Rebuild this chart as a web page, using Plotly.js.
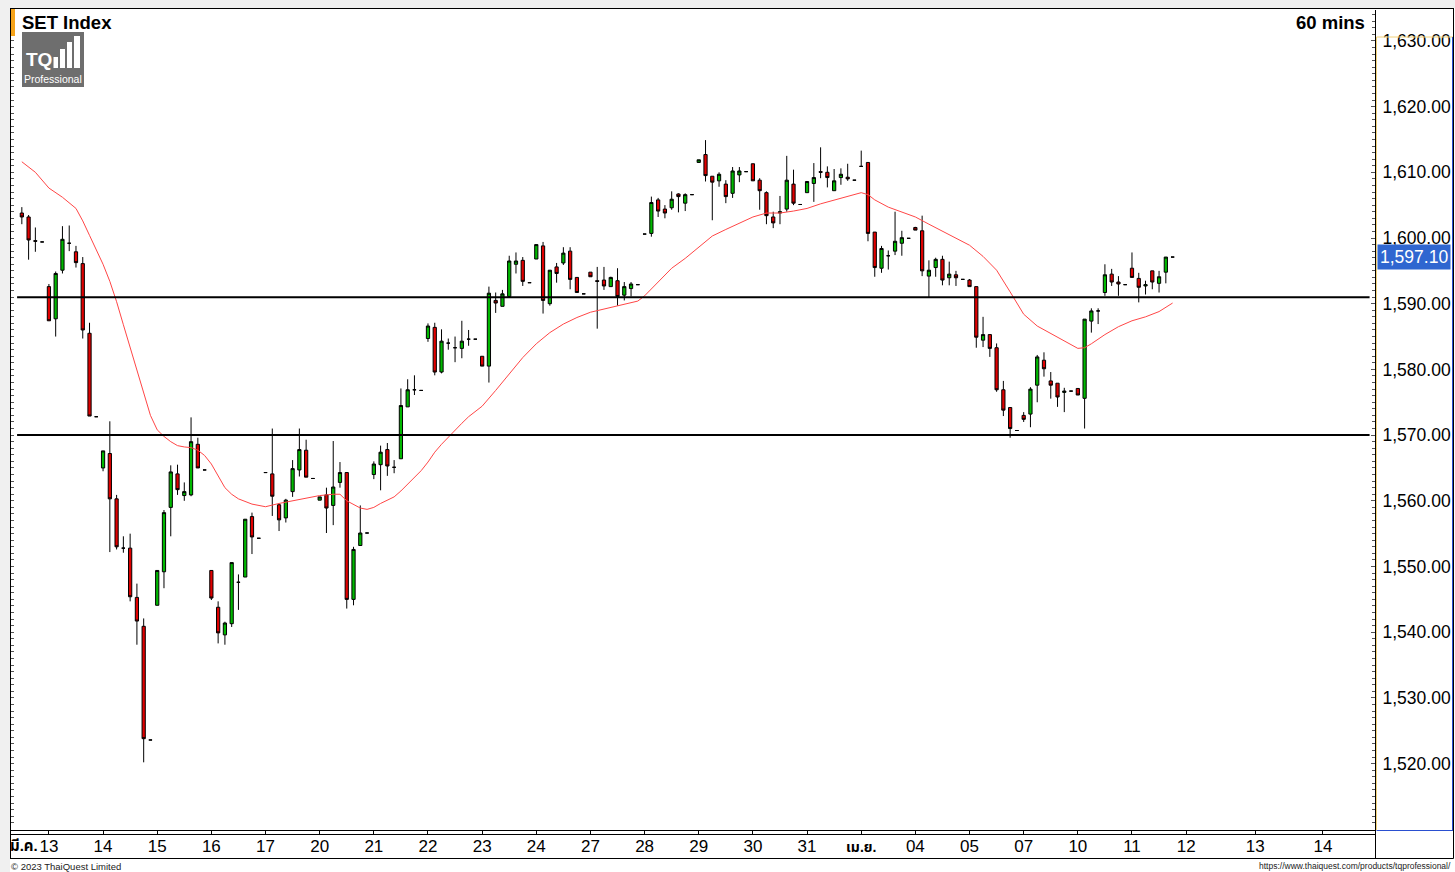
<!DOCTYPE html>
<html>
<head>
<meta charset="utf-8">
<script src="https://cdn.plot.ly/plotly-3.0.1.min.js"></script>
<style>
  html, body { margin: 0; padding: 0; background: #ffffff; }
  #chart { width: 1455px; height: 872px; }
</style>
</head>
<body>
<div id="chart"></div>
<script>
// ---------- DATA (hourly bars) ----------
const openP = [
 1603.8,1603.2,1599.6,1599.4, 1592.6,1587.7,1595.1,1599.2,1597.9,1596.1,1585.5,1572.8,
 1565.0,1567.2,1560.3,1552.8,1552.8,1545.3,1540.9,1523.6,
 1544.1,1549.2,1559.0,1564.1,1560.8,1560.9,1568.6,1564.7,
 1549.4,1543.8,1539.6,1541.3,1547.6,1548.4,1557.6,1554.3,
 1564.3,1564.1,1559.4,1557.4,1561.4,1564.7,1567.7,1563.4,
 1560.1,1560.9,1559.3,1562.8,1564.3,1545.0,1553.2,1555.1,
 1564.0,1565.5,1567.8,1565.1,1566.4,1574.3,1576.9,1576.8,
 1584.7,1586.4,1579.6,1584.0,1583.3,1583.2,1584.6,1584.6,
 1582.0,1580.5,1590.5,1589.6,1591.1,1596.0,1596.6,1593.2,
 1596.8,1598.8,1590.0,1595.6,1596.2,1598.0,1594.0,1591.5,
 1594.8,1593.5,1593.6,1592.6,1593.5,1591.3,1592.3,1592.9,
 1600.6,1600.7,1605.8,1604.4,1604.6,1606.7,1605.3,1606.6,
 1611.5,1612.7,1609.4,1608.7,1608.2,1606.8,1609.6,1610.1,
 1611.3,1608.8,1606.9,1603.2,1603.8,1604.4,1608.2,1605.1,
 1606.9,1608.3,1610.1,1610.0,1607.2,1609.2,1609.25,1608.8,
 1610.9,1611.5,1600.9,1595.4,1597.3,1598.0,1599.2,1599.95,
 1601.6,1601.1,1594.2,1595.5,1596.75,1593.95,1594.4,1593.7,
 1593.6,1592.6,1584.45,1585.3,1583.3,1576.9,1574.2,1570.7,
 1573.0,1573.2,1577.6,1581.4,1578.25,1577.9,1576.5,1576.7,
 1577.1,1575.6,1587.35,1588.9,1591.7,1594.5,1593.3,1592.9,
 1595.4,1593.85,1592.7,1595.0,1593.1,1594.8,1597.1
];
const highP = [
 1604.7,1603.5,1601.6,1599.4, 1593.0,1594.9,1601.8,1601.9,1598.8,1597.1,1587.1,1572.8,
 1567.6,1572.1,1560.9,1554.6,1555.0,1547.4,1542.1,1523.6,
 1549.4,1558.6,1565.4,1565.5,1562.8,1572.7,1569.6,1564.7,
 1549.4,1544.7,1541.6,1550.6,1548.8,1557.2,1558.2,1554.3,
 1564.3,1571.0,1559.6,1560.3,1566.2,1571.0,1569.3,1563.4,
 1560.6,1562.0,1569.1,1565.9,1564.3,1553.0,1559.3,1555.1,
 1566.0,1568.4,1568.8,1566.2,1577.1,1578.5,1579.1,1576.8,
 1587.0,1587.1,1586.1,1584.7,1585.0,1587.4,1586.0,1584.6,
 1582.0,1592.6,1591.7,1592.1,1597.3,1597.8,1597.1,1593.2,
 1599.0,1599.4,1595.1,1596.2,1598.6,1598.6,1594.0,1591.5,
 1594.8,1595.6,1595.6,1594.1,1595.4,1593.3,1593.3,1592.9,
 1600.6,1606.3,1606.1,1605.0,1607.1,1606.8,1606.8,1606.6,
 1611.9,1614.9,1609.4,1610.0,1608.8,1610.8,1610.8,1610.1,
 1611.3,1609.1,1607.1,1604.0,1606.4,1612.5,1610.4,1605.1,
 1608.6,1611.4,1613.8,1610.9,1610.5,1610.6,1611.3,1608.8,
 1613.3,1611.5,1600.9,1598.8,1598.1,1604.0,1601.1,1599.95,
 1601.7,1603.4,1596.6,1597.0,1597.3,1596.4,1595.0,1593.7,
 1593.75,1592.6,1588.0,1585.3,1583.95,1578.25,1574.2,1570.7,
 1573.5,1577.3,1582.2,1582.6,1579.6,1577.9,1577.2,1576.7,
 1577.1,1587.65,1589.3,1589.3,1596.0,1595.3,1594.2,1592.9,
 1597.8,1594.7,1593.5,1595.0,1595.0,1597.1,1597.1
];
const lowP = [
 1602.1,1596.7,1597.9,1599.4, 1587.4,1585.0,1594.6,1598.0,1595.5,1584.7,1572.9,1572.8,
 1564.5,1552.2,1552.6,1552.1,1544.7,1538.1,1520.2,1523.6,
 1544.1,1546.7,1554.6,1560.9,1560.0,1560.7,1565.0,1564.7,
 1544.9,1538.3,1538.1,1540.8,1543.4,1548.4,1551.9,1554.3,
 1564.3,1557.7,1555.4,1556.7,1560.6,1563.7,1563.6,1563.4,
 1560.1,1555.1,1556.3,1562.0,1543.6,1544.1,1553.2,1555.1,
 1563.3,1561.6,1563.8,1564.2,1566.4,1574.3,1576.1,1576.8,
 1584.2,1579.1,1579.4,1583.0,1581.1,1581.7,1583.6,1584.6,
 1580.5,1578.0,1588.6,1589.6,1591.1,1594.6,1592.7,1593.2,
 1596.8,1588.5,1589.7,1593.2,1595.9,1592.2,1591.7,1591.5,
 1594.1,1586.2,1592.1,1592.6,1589.7,1590.5,1591.1,1592.9,
 1600.6,1600.2,1603.2,1603.0,1604.3,1603.9,1604.1,1606.6,
 1611.5,1608.6,1602.7,1607.8,1605.3,1606.1,1608.5,1610.1,
 1608.7,1604.3,1602.1,1601.5,1602.1,1604.0,1605.0,1605.1,
 1606.9,1605.5,1609.1,1607.7,1607.2,1608.1,1608.7,1608.8,
 1610.9,1599.5,1594.1,1594.7,1595.2,1597.4,1597.3,1599.95,
 1601.2,1594.2,1591.0,1594.1,1592.8,1592.8,1592.7,1593.7,
 1592.6,1583.3,1583.4,1581.9,1576.6,1572.9,1569.6,1570.7,
 1572.0,1571.2,1575.0,1578.9,1575.55,1574.3,1573.5,1576.7,
 1576.1,1571.0,1585.6,1586.9,1591.2,1592.7,1591.2,1592.9,
 1594.0,1590.2,1591.4,1592.2,1591.7,1593.1,1597.1
];
const closeP = [
 1603.2,1599.7,1599.5,1599.4, 1587.4,1594.6,1599.8,1599.2,1596.25,1586.0,1572.9,1572.8,
 1567.6,1560.3,1553.0,1552.8,1545.4,1541.7,1523.8,1523.6,
 1549.4,1558.2,1564.4,1561.7,1561.4,1569.0,1565.0,1564.7,
 1545.2,1539.9,1541.4,1550.6,1547.6,1557.2,1554.5,1554.3,
 1564.3,1560.7,1557.1,1560.1,1564.9,1567.8,1563.6,1563.4,
 1560.6,1558.9,1562.1,1564.3,1545.0,1552.6,1555.1,1555.1,
 1565.6,1567.4,1565.3,1565.1,1574.5,1576.9,1576.9,1576.8,
 1586.6,1579.6,1584.3,1584.0,1583.3,1584.3,1584.6,1584.6,
 1580.5,1591.6,1590.1,1591.5,1596.5,1596.5,1593.4,1593.2,
 1599.0,1590.5,1595.1,1594.6,1597.7,1593.7,1591.7,1591.5,
 1594.1,1593.4,1592.7,1594.0,1591.1,1592.6,1593.0,1592.9,
 1600.6,1605.4,1604.1,1603.8,1605.9,1606.3,1606.6,1606.6,
 1611.9,1609.5,1608.5,1609.7,1606.3,1610.2,1610.2,1610.1,
 1608.7,1607.2,1603.4,1602.3,1604.0,1608.8,1605.3,1605.1,
 1608.6,1609.2,1610.0,1609.2,1608.7,1609.7,1609.0,1608.8,
 1610.9,1600.7,1595.5,1598.4,1597.3,1599.5,1600.05,1599.95,
 1601.2,1595.0,1595.1,1596.75,1593.6,1594.5,1593.95,1593.7,
 1592.6,1584.9,1585.3,1583.2,1576.9,1573.8,1571.0,1570.7,
 1572.4,1577.0,1581.9,1580.1,1577.6,1575.8,1576.7,1576.7,
 1576.1,1587.65,1588.9,1588.9,1594.4,1593.3,1593.0,1592.9,
 1594.0,1592.5,1592.9,1593.3,1594.1,1597.1,1597.1
];
// moving average line, read at bar positions
const maBar = [0,2,4,6,8,9,10,11,12,13,14,15,16,17,18,19,20,21,22,23,24,25,26,27,28,29,30,31,32,34,36,38,40,42,44,46,47,48,49,50,51,52,53,54,55,56,57,58,59,60,61,62,63,64,65,66,67,68,70,72,74,76,78,80,82,84,86,88,90,91,92,94,96,98,100,102,104,106,108,110,112,114,116,118,120,122,124,125,126,128,130,132,134,136,138,140,142,144,146,148,150,152,154,156,157,158,160,162,164,166,168,170];
const maVal = [1611.6,1610.0,1607.6,1606.2,1604.5,1602.6,1600.4,1598.2,1596.0,1593.4,1590.3,1586.8,1583.3,1580.2,1576.5,1573.0,1570.8,1569.8,1569.0,1568.4,1568.2,1568.1,1567.7,1566.9,1565.6,1563.9,1562.0,1561.0,1560.3,1559.5,1559.1,1559.6,1560.0,1560.4,1560.8,1561.0,1561.0,1560.0,1559.4,1558.9,1558.7,1559.0,1559.6,1560.1,1560.6,1561.5,1562.5,1563.5,1564.6,1565.9,1567.4,1568.6,1569.7,1570.8,1571.8,1572.8,1573.6,1574.4,1576.8,1579.3,1581.8,1583.9,1585.6,1586.9,1587.9,1588.7,1589.2,1589.6,1590.1,1590.4,1591.2,1593.3,1595.4,1596.9,1598.6,1600.3,1601.3,1602.2,1603.2,1603.8,1603.8,1604.1,1604.5,1605.2,1605.8,1606.4,1606.9,1606.6,1605.8,1604.7,1603.9,1603.2,1602.1,1601.0,1600.0,1598.9,1597.2,1595.1,1591.8,1588.4,1586.6,1585.5,1584.4,1583.2,1583.3,1583.9,1585.3,1586.5,1587.4,1588.0,1588.8,1590.1];
// horizontal support / resistance levels
const levels = [1591.0, 1570.0];
// x-axis day ticks (bar position of each day's first bar) and labels
const dayTickBar = [4,12,20,28,36,44,52,60,68,76,84,92,100,108,116,124,132,140,148,156,164,172,182.2,192.2];
const dayTickText = ["13","14","15","16","17","20","21","22","23","24","27","28","29","30","31",
  "<b><span style=\"font-size:14px\">เม.ย.</span></b>","04","05","07","10","11","12","13","14"];
const yTicks = [1520,1530,1540,1550,1560,1570,1580,1590,1600,1610,1620,1630];
const titleText = "SET Index";
const periodText = "60 mins";
const monthStartText = "มี.ค.";
const copyText = "© 2023 ThaiQuest Limited";
const urlText = "https://www.thaiquest.com/products/tqprofessional/";

// ---------- PLOT ----------
const barIdx = closeP.map((_, i) => i);
const W = 1455, H = 872, L = 11, R = 80, T = 10, B = 42;
const pw = W - L - R, ph = H - T - B;
const px = x => (x - L) / pw;           // page pixel -> paper x
const py = y => (H - B - y) / ph;       // page pixel -> paper y

const FONT = "Liberation Sans, Arial, Noto Sans Thai, sans-serif";

const traces = [
  { type: "scatter", mode: "lines", x: maBar, y: maVal,
    line: { color: "#ff4646", width: 1 }, hoverinfo: "skip", showlegend: false },
  { type: "candlestick", x: barIdx, open: openP, high: highP, low: lowP, close: closeP,
    increasing: { line: { color: "#000000", width: 1 }, fillcolor: "#00b800" },
    decreasing: { line: { color: "#000000", width: 1 }, fillcolor: "#e00000" },
    whiskerwidth: 0, hoverinfo: "skip", showlegend: false },
  // invisible trace to anchor the left-hand mirror axis
  { type: "scatter", mode: "lines", x: [0], y: [1600], yaxis: "y2",
    line: { width: 0 }, hoverinfo: "skip", showlegend: false, opacity: 0 }
];

const shapes = [];
// grey window strips (top and left)
shapes.push({ type: "rect", xref: "paper", yref: "paper", x0: px(0), x1: px(W), y0: py(0), y1: py(8),
  fillcolor: "#f0f0f0", line: { width: 0 }, layer: "below" });
shapes.push({ type: "rect", xref: "paper", yref: "paper", x0: px(0), x1: px(10), y0: py(0), y1: py(H),
  fillcolor: "#f0f0f0", line: { width: 0 }, layer: "below" });
// outer frame
const blackLine = (x0, y0, x1, y1, w, c) => shapes.push({ type: "line", xref: "paper", yref: "paper",
  x0: px(x0), x1: px(x1), y0: py(y0), y1: py(y1), line: { color: c || "#000", width: w || 1 } });
blackLine(10, 8.5, 1453.5, 8.5, 1);
blackLine(10.5, 8, 10.5, 858.5, 1);
blackLine(1453.5, 8, 1453.5, 858.5, 1);
blackLine(10, 858.5, 1453.5, 858.5, 1);
blackLine(11, 834.5, 1375.5, 834.5, 1);
blackLine(1375.5, 830, 1375.5, 858.5, 1);
// price-axis panel frame
blackLine(1376.5, 37, 1376.5, 830, 1, "#f2d27a");
blackLine(1376.5, 37, 1453, 37, 1, "#f2d27a");
blackLine(1452.5, 37, 1452.5, 830.5, 1, "#2a4fd0");
blackLine(1376.5, 830.5, 1453, 830.5, 1, "#2a4fd0");
// orange marker next to the title
shapes.push({ type: "rect", xref: "paper", yref: "paper", x0: px(11), x1: px(15), y0: py(36), y1: py(9),
  fillcolor: "#f5a31a", line: { width: 0 } });
// logo box
shapes.push({ type: "rect", xref: "paper", yref: "paper", x0: px(22), x1: px(84), y0: py(87), y1: py(32),
  fillcolor: "#6e6e6e", line: { width: 0 } });
[[53.5, 58, 57], [60, 65, 49], [67, 72, 42], [74, 80, 36]].forEach(b => {
  shapes.push({ type: "rect", xref: "paper", yref: "paper", x0: px(b[0]), x1: px(b[1]), y0: py(68), y1: py(b[2]),
    fillcolor: "#ffffff", line: { width: 0 } });
});
// support / resistance lines
levels.forEach(v => shapes.push({ type: "line", xref: "x", yref: "y", x0: -0.7, x1: 199.1, y0: v, y1: v,
  line: { color: "#000000", width: 2 } }));

const lastClose = closeP[closeP.length - 1];
const fmt = v => v.toLocaleString("en-US", { minimumFractionDigits: 2, maximumFractionDigits: 2 });

const annotations = [
  { xref: "paper", yref: "paper", x: px(20), y: py(22), xanchor: "left", yanchor: "middle", showarrow: false,
    text: "<b>" + titleText + "</b>", font: { family: FONT, size: 18.5, color: "#000" } },
  { xref: "paper", yref: "paper", x: px(1367), y: py(22), xanchor: "right", yanchor: "middle", showarrow: false,
    text: "<b>" + periodText + "</b>", font: { family: FONT, size: 18.5, color: "#000" } },
  { xref: "paper", yref: "paper", x: px(24), y: py(59), xanchor: "left", yanchor: "middle", showarrow: false,
    text: "<b>TQ</b>", font: { family: FONT, size: 19, color: "#fff" } },
  { xref: "paper", yref: "paper", x: px(53), y: py(79), xanchor: "center", yanchor: "middle", showarrow: false,
    text: "Professional", font: { family: FONT, size: 10.5, color: "#fff" } },
  { xref: "paper", yref: "paper", x: px(24), y: py(845), xanchor: "center", yanchor: "middle", showarrow: false,
    text: "<b>" + monthStartText + "</b>", font: { family: FONT, size: 15, color: "#000" } },
  { xref: "paper", yref: "paper", x: px(9), y: py(866), xanchor: "left", yanchor: "middle", showarrow: false,
    text: copyText, font: { family: FONT, size: 9.5, color: "#222" } },
  { xref: "paper", yref: "paper", x: px(1453), y: py(866), xanchor: "right", yanchor: "middle", showarrow: false,
    text: urlText, font: { family: FONT, size: 8.5, color: "#222" } },
  { xref: "paper", yref: "y", x: px(1377), y: lastClose, xanchor: "left", yanchor: "middle", showarrow: false,
    text: fmt(lastClose), bgcolor: "#2f66d0", borderpad: 2, font: { family: FONT, size: 17.5, color: "#fff" } }
];

const layout = {
  width: W, height: H, autosize: false,
  margin: { l: L, r: R, t: T, b: B, pad: 0 },
  paper_bgcolor: "#ffffff", plot_bgcolor: "#ffffff",
  font: { family: FONT, color: "#000" },
  showlegend: false, dragmode: false, boxgap: 0.32,
  xaxis: {
    range: [-1.6, 199.9], tickmode: "array", tickvals: dayTickBar, ticktext: dayTickText,
    ticks: "outside", ticklen: 4, tickcolor: "#000", tickwidth: 1,
    tickfont: { family: FONT, size: 17, color: "#000" }, ticklabelstandoff: -3,
    showline: true, linecolor: "#000", linewidth: 1, showgrid: false, zeroline: false,
    rangeslider: { visible: false }, fixedrange: true
  },
  yaxis: {
    side: "right", range: [1509.9, 1634.7], tickmode: "array", tickvals: yTicks,
    tickformat: ",.2f", ticks: "inside", ticklen: 4, tickcolor: "#555",
    minor: { ticks: "inside", ticklen: 3, tickcolor: "#555", dtick: 1, showgrid: false },
    tickfont: { family: FONT, size: 17.5, color: "#000" }, ticklabelstandoff: 3,
    showline: true, linecolor: "#000", linewidth: 1, showgrid: false, zeroline: false, fixedrange: true
  },
  yaxis2: {
    overlaying: "y", side: "left", anchor: "x", matches: "y", range: [1509.9, 1634.7],
    showticklabels: false, ticks: "inside", ticklen: 3, tickcolor: "#555", tickmode: "linear", tick0: 1510, dtick: 1,
    showline: true, linecolor: "#000", showgrid: false, zeroline: false, fixedrange: true
  },
  shapes: shapes,
  annotations: annotations
};

Plotly.newPlot("chart", traces, layout, { displayModeBar: false, staticPlot: true });
</script>
</body>
</html>
